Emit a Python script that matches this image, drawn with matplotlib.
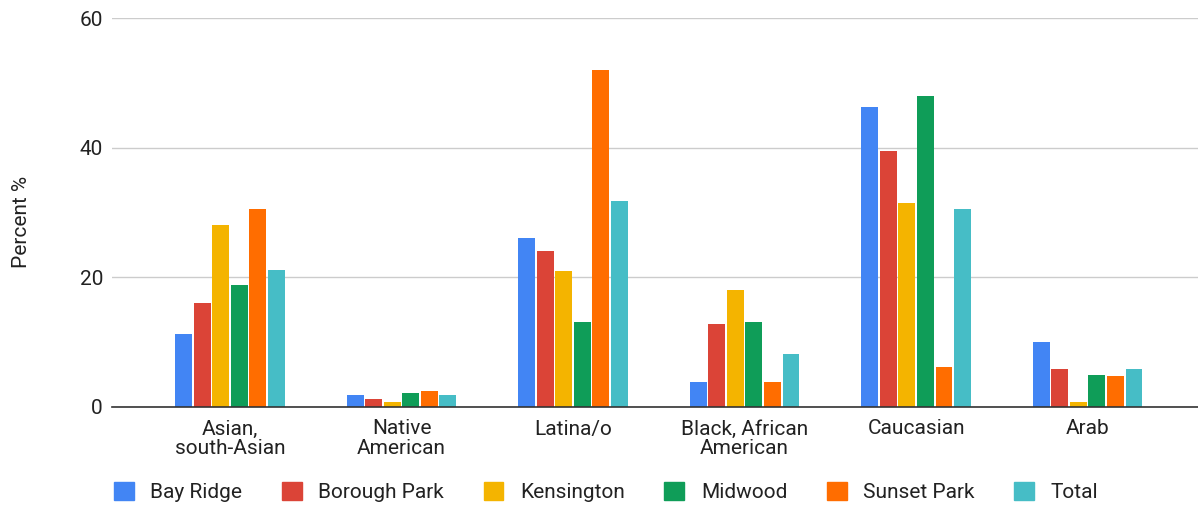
import matplotlib
matplotlib.use("Agg")
import matplotlib.pyplot as plt
import numpy as np
from matplotlib.patches import Patch

plt.rcParams['font.family'] = ['Roboto', 'DejaVu Sans']

categories = ["Asian,\nsouth-Asian", "Native\nAmerican", "Latina/o",
              "Black, African\nAmerican", "Caucasian", "Arab"]
series_names = ["Bay Ridge", "Borough Park", "Kensington", "Midwood", "Sunset Park", "Total"]
bay_ridge = [11.3, 1.85, 26.0, 3.8, 46.2, 10.1]
borough_park = [16.0, 1.2, 24.0, 12.8, 39.5, 5.8]
kensington = [28.0, 0.7, 20.9, 18.0, 31.5, 0.8]
midwood = [18.8, 2.2, 13.1, 13.1, 48.0, 4.9]
sunset_park = [30.6, 2.5, 52.0, 3.8, 6.1, 4.75]
total = [21.1, 1.85, 31.8, 8.2, 30.6, 5.8]
series = [bay_ridge, borough_park, kensington, midwood, sunset_park, total]
colors = ["#4285F4", "#DB4437", "#F4B400", "#0F9D58", "#FF6D00", "#46BDC6"]
yticks = [0, 20, 40, 60]

FS = 15
fig = plt.figure(figsize=(11.98, 5.08), dpi=100)
ax = fig.add_axes([112/1198, 101/508, 1 - 112/1198, (407-18)/508])

x = np.arange(len(categories))
step = 0.108
width = 0.097
for i, (vals, c) in enumerate(zip(series, colors)):
    offs = (i - 2.5) * step
    ax.bar(x + offs, vals, width=width, color=c, zorder=3)

ax.set_xlim(-0.688, 5.644)
ax.set_ylim(0, 60)
ax.set_yticks(yticks)
ax.set_yticklabels([str(t) for t in yticks], fontsize=FS, color="#222222")
ax.set_xticks(x)
ax.set_xticklabels(categories, fontsize=FS, color="#222222", linespacing=1.0)
ax.tick_params(axis='y', length=0, pad=6.5)
ax.tick_params(axis='x', length=0, pad=9)
ax.grid(axis='y', color="#cccccc", linewidth=1, zorder=0)
for s in ["top", "right", "left"]:
    ax.spines[s].set_visible(False)
ax.spines["bottom"].set_color("#333333")
ax.spines["bottom"].set_linewidth(1.2)
ax.spines["bottom"].set_zorder(4)
ax.set_ylabel("Percent %", fontsize=FS, color="#222222")
ax.yaxis.set_label_coords(-0.075, 0.476)

handles = [Patch(facecolor=c, edgecolor=c) for c in colors]
fig.legend(handles, series_names, loc="center", bbox_to_anchor=(0.506, 0.0315),
           ncol=6, frameon=False, fontsize=FS, handlelength=0.95, handleheight=1.0,
           columnspacing=1.9, handletextpad=0.8, labelcolor="#222222")

fig.savefig("out.png", dpi=100, facecolor="white")
